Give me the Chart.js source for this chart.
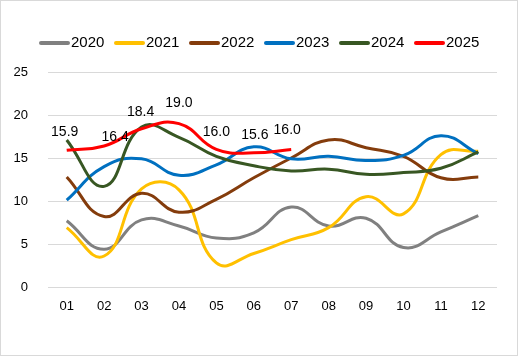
<!DOCTYPE html>
<html>
<head>
<meta charset="utf-8">
<script src="https://cdn.jsdelivr.net/npm/chart.js@4/dist/chart.umd.min.js"></script>
<style>
  html, body { margin: 0; padding: 0; background: #fff; }
  #wrap { width: 518px; height: 356px; position: relative; }
</style>
</head>
<body>
<div id="wrap"><canvas id="c" width="518" height="356"></canvas></div>
<script>
const months = ['01','02','03','04','05','06','07','08','09','10','11','12'];
const seriesNames = ['2020','2021','2022','2023','2024','2025'];
const v2020 = [7.7, 4.4, 7.8, 7.1, 5.7, 6.3, 9.3, 7.1, 8.0, 4.6, 6.4, 8.3];
const v2021 = [6.9, 3.6, 11.4, 11.3, 2.8, 3.9, 5.5, 6.9, 10.5, 8.5, 15.4, 15.8];
const v2022 = [12.8, 8.2, 10.9, 8.7, 10.2, 12.7, 15.0, 17.1, 16.2, 15.2, 12.7, 12.8];
const v2023 = [10.1, 14.0, 14.9, 13.0, 14.2, 16.3, 14.9, 15.2, 14.7, 15.3, 17.6, 15.5];
const v2024 = [17.1, 11.7, 18.6, 17.4, 15.2, 14.1, 13.5, 13.7, 13.1, 13.3, 13.8, 15.7];
const v2025 = [15.9, 16.4, 18.4, 19.0, 16.0, 15.6, 16.0];
const yTicks = [0, 5, 10, 15, 20, 25];

const colors = ['#808080', '#FFC000', '#843C0C', '#0070C0', '#385723', '#FF0000'];
const allValues = [v2020, v2021, v2022, v2023, v2024, v2025];
const FONT = '"Liberation Sans", Arial, sans-serif';

const datasets = allValues.map((vals, i) => ({
  label: seriesNames[i],
  data: vals,
  borderColor: colors[i],
  backgroundColor: colors[i],
  borderWidth: 3,
  pointRadius: 0,
  tension: 0.45,
  fill: false,
  order: allValues.length - 1 - i
}));

const decorPlugin = {
  id: 'decor',
  afterDraw(chart) {
    const ctx = chart.ctx;
    ctx.save();
    // border
    ctx.strokeStyle = '#d9d9d9';
    ctx.lineWidth = 1;
    ctx.strokeRect(0.5, 0.5, chart.width - 1, chart.height - 1);
    // legend
    ctx.font = '15px ' + FONT;
    ctx.textBaseline = 'middle';
    ctx.textAlign = 'left';
    const startX = 40, pitch = 75, ly = 43;
    seriesNames.forEach((n, i) => {
      const x = startX + i * pitch;
      ctx.strokeStyle = colors[i];
      ctx.lineWidth = 4;
      ctx.lineCap = 'round';
      ctx.beginPath();
      ctx.moveTo(x + 1, ly);
      ctx.lineTo(x + 28, ly);
      ctx.stroke();
      ctx.fillStyle = '#000';
      ctx.fillText(n, x + 31, ly);
    });
    // data labels for last series
    const idx = seriesNames.length - 1;
    const meta = chart.getDatasetMeta(idx);
    const dx = [-2, 11, -1, 0, 0, 1, -4];
    const dy = [-18, -9, -17, -20, -17, -18, -19];
    ctx.font = '14px ' + FONT;
    ctx.textAlign = 'center';
    ctx.fillStyle = '#000';
    meta.data.forEach((pt, j) => {
      const v = allValues[idx][j];
      ctx.fillText(v.toFixed(1), pt.x + (dx[j] || 0), pt.y + (dy[j] || -17));
    });
    ctx.restore();
  }
};

new Chart(document.getElementById('c'), {
  type: 'line',
  data: { labels: months, datasets },
  options: {
    responsive: false,
    animation: false,
    layout: { padding: { top: 72, right: 21, left: 0, bottom: 0 } },
    plugins: { legend: { display: false }, tooltip: { enabled: false } },
    scales: {
      x: {
        offset: true,
        grid: { display: false, drawTicks: false },
        border: { display: false },
        ticks: { color: '#000', font: { family: FONT, size: 13 }, padding: 12, maxRotation: 0 },
        afterFit(s) { s.height = 69; }
      },
      y: {
        min: 0, max: 25,
        afterBuildTicks(s) { s.ticks = yTicks.map(v => ({ value: v })); },
        grid: { color: '#d9d9d9', lineWidth: 1, drawTicks: false },
        border: { display: false },
        ticks: { color: '#000', font: { family: FONT, size: 13 }, padding: 20 },
        afterFit(s) { s.width = 48; }
      }
    }
  },
  plugins: [decorPlugin]
});
</script>
</body>
</html>
